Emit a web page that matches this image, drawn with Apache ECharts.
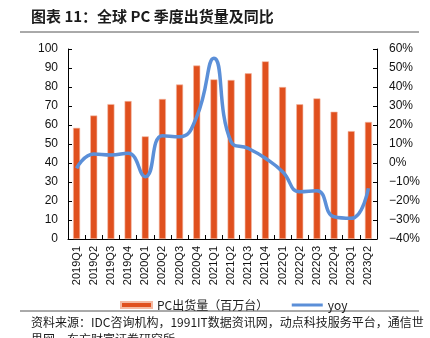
<!DOCTYPE html>
<html>
<head>
<meta charset="utf-8">
<script src="https://cdn.jsdelivr.net/npm/echarts@6/dist/echarts.min.js"></script>
<style>
  html, body { margin: 0; padding: 0; background: #fff; }
  #chart { width: 430px; height: 338px; }
</style>
</head>
<body>
<div id="chart"></div>
<script>
// Quarterly global PC shipments (millions) and year-over-year change (%)
const quarters = ['2019Q1','2019Q2','2019Q3','2019Q4','2020Q1','2020Q2','2020Q3','2020Q4',
  '2021Q1','2021Q2','2021Q3','2021Q4','2022Q1','2022Q2','2022Q3','2022Q4','2023Q1','2023Q2'];
const shipments = [58.5, 65, 71, 72.6, 54, 73.7, 81.3, 91.3, 84, 83.7, 87.2, 93.5, 80, 70.9, 74, 67, 56.8, 61.6];
const yoy = [-2.8, 4.7, 4.2, 5.1, -7.2, 14.4, 13.8, 24.4, 55.1, 11.2, 7.7, 2.5, -4.6, -15.1, -14.6, -28.3, -29.1, -13.3];
const leftTicks = { min: 0, max: 100, interval: 10 };
const rightTicks = { min: -40, max: 60, interval: 10 };

const titleText = '图表 11：全球 PC 季度出货量及同比';
const sourceLine1 = '资料来源：IDC咨询机构，1991IT数据资讯网，动点科技服务平台，通信世';
const sourceLine2 = '界网，东方财富证券研究所';

const cjk = '"Noto Sans CJK SC", "Liberation Sans", sans-serif';
const latin = '"Liberation Sans", Arial, sans-serif';
const barColor = '#E0501E';
const lineColor = '#5B8FD8';

const chart = echarts.init(document.getElementById('chart'));
chart.setOption({
  animation: false,
  backgroundColor: '#fff',
  grid: { left: 68, right: 53, top: 49, bottom: 99, containLabel: false },
  legend: {
    top: 294,
    left: 115,
    itemGap: 22,
    itemWidth: 31,
    itemHeight: 6,
    textStyle: { fontFamily: cjk, fontSize: 12, color: '#222' },
    data: [
      { name: 'PC出货量（百万台）', icon: 'rect' },
      { name: 'yoy', itemStyle: { opacity: 0 }, lineStyle: { width: 3, color: lineColor } }
    ]
  },
  xAxis: {
    type: 'category',
    data: quarters,
    axisLine: { lineStyle: { color: '#000', width: 1 } },
    axisTick: { show: true, inside: true, alignWithLabel: false, length: 4, lineStyle: { color: '#000' } },
    axisLabel: { rotate: 90, fontFamily: latin, fontSize: 11, color: '#111', margin: 7, interval: 0 }
  },
  yAxis: [
    {
      type: 'value',
      min: leftTicks.min, max: leftTicks.max, interval: leftTicks.interval,
      position: 'left',
      axisLine: { show: true, lineStyle: { color: '#000' } },
      axisTick: { show: true, inside: true, length: 4, lineStyle: { color: '#000' } },
      splitLine: { show: false },
      axisLabel: { fontFamily: latin, fontSize: 12, color: '#111', margin: 10 }
    },
    {
      type: 'value',
      min: rightTicks.min, max: rightTicks.max, interval: rightTicks.interval,
      position: 'right',
      axisLine: { show: true, lineStyle: { color: '#000' } },
      axisTick: { show: true, inside: true, length: 4, lineStyle: { color: '#000' } },
      splitLine: { show: false },
      axisLabel: { fontFamily: latin, fontSize: 12, color: '#111', margin: 12,
        formatter: v => (v < 0 ? '\u2212' + Math.abs(v) : v) + '%' }
    }
  ],
  series: [
    {
      name: 'PC出货量（百万台）',
      type: 'bar',
      data: shipments,
      yAxisIndex: 0,
      barWidth: 7,
      itemStyle: { color: barColor, borderColor: '#F4B9A2', borderWidth: 0.6 }
    },
    {
      name: 'yoy',
      type: 'line',
      data: yoy,
      yAxisIndex: 1,
      smooth: 0.5,
      symbol: 'none',
      lineStyle: { color: lineColor, width: 3.5 },
      itemStyle: { color: lineColor }
    }
  ],
  graphic: [
    { type: 'text', left: 31, top: 9,
      style: { text: titleText, fontFamily: cjk, fontWeight: 'bold', fontSize: 15, fill: '#1a1a1a' } },
    { type: 'line', shape: { x1: 20, y1: 32, x2: 419, y2: 32 }, style: { stroke: '#555', lineWidth: 1 } },
    { type: 'line', shape: { x1: 20, y1: 311, x2: 419, y2: 311 }, style: { stroke: '#555', lineWidth: 1 } },
    { type: 'text', left: 31, top: 316,
      style: { text: sourceLine1, fontFamily: cjk, fontSize: 12, fill: '#1a1a1a' } },
    { type: 'text', left: 31, top: 333,
      style: { text: sourceLine2, fontFamily: cjk, fontSize: 12, fill: '#1a1a1a' } }
  ]
});
</script>
</body>
</html>
